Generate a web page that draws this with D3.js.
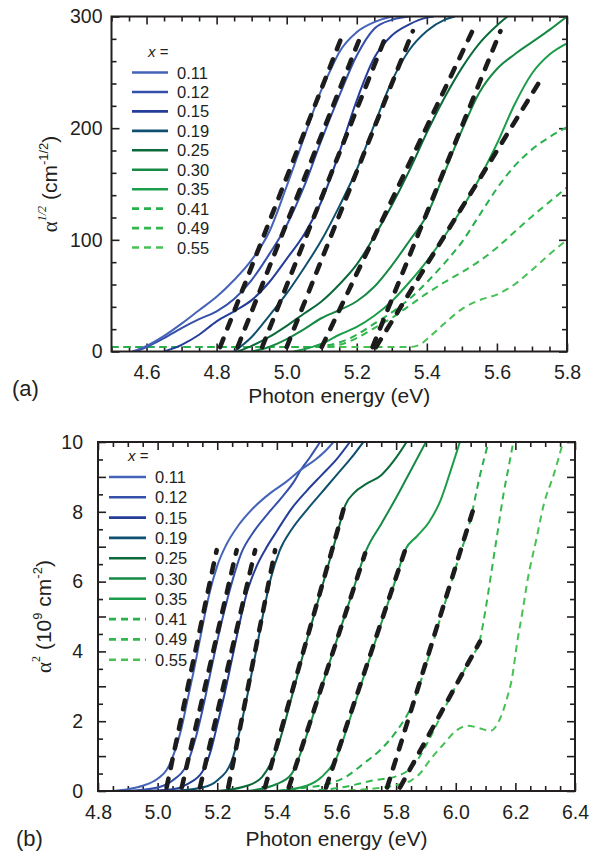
<!DOCTYPE html>
<html><head><meta charset="utf-8">
<script src="https://cdn.jsdelivr.net/npm/d3@7"></script>
<style>
body{margin:0;background:#fff;}
svg{display:block;}
text{font-family:"Liberation Sans",Arial,Helvetica,sans-serif;fill:#231f20;}
</style>
</head><body>
<svg id="chart" width="600" height="852"></svg>
<script>
// ---------------- DATA ----------------
const compositions = ["0.11","0.12","0.15","0.19","0.25","0.30","0.35","0.41","0.49","0.55"];
const seriesColors = ["#4563b8","#3450aa","#243e98","#0f5070","#0c6a3a","#168a45","#1c9d49","#27b04b","#32b84d","#48c154"];
const seriesDashed = [false,false,false,false,false,false,false,true,true,true];

const xTicksA = [4.6,4.8,5.0,5.2,5.4,5.6,5.8];
const yTicksA = [0,100,200,300];
const xTicksB = [4.8,5.0,5.2,5.4,5.6,5.8,6.0,6.2,6.4];
const yTicksB = [0,2,4,6,8,10];

// Panel (a): alpha^(1/2) (cm^-1/2) vs photon energy (eV)
const a011 = [[4.56,0],[4.6,5],[4.65,14],[4.7,25],[4.75,37],[4.8,49],[4.85,64],[4.9,82],[4.95,107],[5.0,148],[5.05,192],[5.1,235],[5.125,252],[5.15,268],[5.2,286],[5.25,295],[5.3,300]];
const a012 = [[4.57,0],[4.6,4],[4.65,12],[4.7,21],[4.75,29],[4.8,36],[4.85,47],[4.9,64],[4.95,87],[5.0,113],[5.05,148],[5.1,190],[5.15,229],[5.2,265],[5.25,289],[5.3,297],[5.35,300]];
const a015 = [[4.65,0],[4.7,6],[4.75,15],[4.8,27],[4.85,36],[4.9,46],[4.95,62],[5.0,83],[5.05,105],[5.1,135],[5.15,178],[5.2,225],[5.25,263],[5.3,283],[5.35,293],[5.4,299],[5.42,300]];
const a019 = [[4.85,0],[4.9,13],[4.95,32],[5.0,52],[5.05,75],[5.1,100],[5.15,130],[5.2,163],[5.25,203],[5.3,242],[5.35,270],[5.4,287],[5.45,297],[5.48,300]];
const a025 = [[4.86,0],[4.9,5],[4.95,13],[5.0,23],[5.05,34],[5.1,45],[5.15,60],[5.2,78],[5.25,103],[5.3,131],[5.35,162],[5.4,196],[5.45,227],[5.5,254],[5.55,276],[5.6,292],[5.63,300]];
const a030 = [[4.9,0],[4.95,4],[5.0,11],[5.05,20],[5.1,30],[5.15,37],[5.2,45],[5.25,58],[5.3,77],[5.35,99],[5.4,122],[5.45,160],[5.5,198],[5.55,232],[5.6,253],[5.65,266],[5.7,277],[5.75,288],[5.8,300]];
const a035 = [[5.02,0],[5.05,2],[5.1,7],[5.15,15],[5.2,22],[5.25,32],[5.3,45],[5.35,62],[5.4,81],[5.45,103],[5.5,128],[5.55,155],[5.6,186],[5.65,221],[5.7,249],[5.75,266],[5.8,276]];
const a041 = [[4.5,4],[5.05,4],[5.1,5],[5.15,8],[5.2,15],[5.25,25],[5.3,35],[5.35,47],[5.4,62],[5.45,79],[5.5,98],[5.55,122],[5.6,146],[5.65,166],[5.7,181],[5.75,192],[5.8,201]];
const a049 = [[4.5,4],[5.1,4],[5.15,6],[5.2,12],[5.25,21],[5.3,30],[5.35,41],[5.4,52],[5.45,62],[5.5,71],[5.55,81],[5.6,93],[5.65,107],[5.7,121],[5.75,134],[5.8,147]];
const a055 = [[4.5,4],[5.35,4],[5.38,6],[5.4,11],[5.45,25],[5.5,38],[5.55,46],[5.6,51],[5.65,60],[5.7,73],[5.75,87],[5.8,100]];
// linear fits (black dashed) for panel (a): [start, end]
const fitsA = [
  [[4.81,4],[5.16,284]],
  [[4.86,4],[5.213,284]],
  [[4.93,4],[5.285,284]],
  [[5.0,4],[5.36,287]],
  [[5.10,4],[5.53,287]],
  [[5.245,4],[5.61,287]],
  [[5.255,4],[5.73,246]]
];

// Panel (b): alpha^2 (10^9 cm^-2) vs photon energy (eV)
const b011 = [[4.85,0],[4.9,0.05],[4.95,0.15],[5.0,0.35],[5.03,0.6],[5.06,1.2],[5.08,1.8],[5.1,2.6],[5.125,3.6],[5.15,4.7],[5.175,5.7],[5.2,6.45],[5.23,7.05],[5.27,7.6],[5.32,8.1],[5.38,8.55],[5.43,8.85],[5.48,9.2],[5.53,9.5],[5.56,9.72],[5.59,10]];
const b012 = [[4.9,0],[5.0,0.1],[5.05,0.3],[5.1,0.8],[5.13,1.6],[5.15,2.3],[5.175,3.3],[5.2,4.3],[5.225,5.2],[5.25,6.0],[5.28,6.8],[5.32,7.4],[5.37,7.95],[5.42,8.45],[5.46,8.9],[5.48,9.2],[5.51,9.55],[5.545,10]];
const b015 = [[4.95,0],[5.05,0.05],[5.1,0.2],[5.15,0.55],[5.18,1.2],[5.2,1.9],[5.225,2.8],[5.25,3.8],[5.28,5.0],[5.3,5.7],[5.33,6.4],[5.36,6.9],[5.4,7.45],[5.45,8.1],[5.5,8.6],[5.55,9.05],[5.6,9.5],[5.645,10]];
const b019 = [[5.05,0],[5.15,0.1],[5.2,0.3],[5.25,0.9],[5.28,1.9],[5.3,2.7],[5.33,4.0],[5.35,4.9],[5.38,6.1],[5.41,6.9],[5.45,7.5],[5.5,8.05],[5.55,8.55],[5.6,9.05],[5.65,9.55],[5.69,10]];
const b025 = [[5.2,0],[5.3,0.15],[5.35,0.4],[5.4,1.2],[5.45,2.7],[5.5,4.3],[5.55,5.8],[5.6,7.3],[5.63,8.2],[5.66,8.55],[5.7,8.8],[5.75,9.05],[5.8,9.55],[5.835,10]];
const b030 = [[5.3,0],[5.4,0.2],[5.45,0.5],[5.5,1.6],[5.55,2.97],[5.6,4.3],[5.65,5.6],[5.7,6.9],[5.75,7.65],[5.8,8.4],[5.85,9.2],[5.9,10]];
const b035 = [[5.4,0],[5.5,0.15],[5.55,0.4],[5.6,0.95],[5.65,2.2],[5.7,3.5],[5.75,4.8],[5.8,6.1],[5.83,6.9],[5.87,7.3],[5.91,7.7],[5.95,8.35],[5.98,9.1],[6.014,10]];
const b041 = [[5.4,0],[5.5,0.1],[5.58,0.22],[5.63,0.4],[5.69,0.78],[5.75,1.2],[5.8,1.7],[5.85,2.4],[5.9,3.6],[5.95,5.0],[6.0,6.4],[6.05,7.8],[6.08,9.0],[6.11,10]];
const b049 = [[5.5,0],[5.63,0.12],[5.72,0.3],[5.8,0.42],[5.86,0.75],[5.9,1.3],[5.95,2.15],[6.0,3.0],[6.05,3.8],[6.08,4.3],[6.1,5.2],[6.12,6.3],[6.14,7.4],[6.16,8.5],[6.18,9.4],[6.193,10]];
const b055 = [[5.6,0],[5.7,0.05],[5.8,0.17],[5.85,0.3],[5.88,0.5],[5.91,0.85],[5.96,1.35],[6.0,1.72],[6.04,1.87],[6.08,1.8],[6.115,1.72],[6.15,2.1],[6.17,2.6],[6.19,3.3],[6.205,4.2],[6.225,5.2],[6.24,6.0],[6.27,7.2],[6.295,8.2],[6.33,9.1],[6.36,10]];
const fitsB = [
  [[5.03,0.1],[5.198,6.9]],
  [[5.081,0.1],[5.265,6.9]],
  [[5.142,0.1],[5.327,6.9]],
  [[5.237,0.1],[5.394,6.9]],
  [[5.36,0.1],[5.629,8.24]],
  [[5.44,0.1],[5.696,6.81]],
  [[5.565,0.1],[5.83,6.9]],
  [[5.77,0.1],[6.065,8.24]],
  [[5.813,0.1],[6.081,4.28]]
];

const curvesA = [a011,a012,a015,a019,a025,a030,a035,a041,a049,a055];
const curvesB = [b011,b012,b015,b019,b025,b030,b035,b041,b049,b055];

// ---------------- DRAW ----------------
const svg = d3.select("#chart");
const FONT = '"Liberation Sans",Arial,Helvetica,sans-serif';
const SERIF = '"Liberation Serif","Times New Roman",serif';

function drawPanel(cfg) {
  const x = d3.scaleLinear().domain(cfg.xDomain).range([cfg.left, cfg.right]);
  const y = d3.scaleLinear().domain(cfg.yDomain).range([cfg.bottom, cfg.top]);
  const g = svg.append("g");
  const clipId = "clip" + cfg.id;
  svg.append("clipPath").attr("id", clipId).append("rect")
    .attr("x", cfg.left).attr("y", cfg.top)
    .attr("width", cfg.right - cfg.left).attr("height", cfg.bottom - cfg.top);

  const eps = 1e-6;
  const xMinor = d3.range(cfg.xDomain[0], cfg.xDomain[1] + eps, cfg.xMinorStep)
    .filter(v => !cfg.xMajor.some(m => Math.abs(m - v) < eps));
  const yMinor = d3.range(cfg.yDomain[0], cfg.yDomain[1] + eps, cfg.yMinorStep)
    .filter(v => !cfg.yMajor.some(m => Math.abs(m - v) < eps));

  const tickStyle = sel => {
    sel.select(".domain").remove();
    sel.selectAll("line").attr("stroke", "#231f20").attr("stroke-width", 1.6);
    sel.selectAll("text").attr("font-family", FONT).attr("font-size", cfg.tickFont).attr("fill", "#231f20");
  };
  const MAJ = 8, MIN = 5;
  const isIn = (arr, v) => arr.some(m => Math.abs(m - v) < eps);
  const xFmt = d => isIn(cfg.xLabels, d) ? d3.format(".1f")(d) : "";
  const yFmt = d => isIn(cfg.yLabels, d) ? d3.format("d")(d) : "";

  // bottom
  g.append("g").attr("transform", `translate(0,${cfg.bottom})`)
    .call(d3.axisBottom(x).tickValues(xMinor).tickSize(-MIN).tickFormat("")).call(tickStyle);
  g.append("g").attr("transform", `translate(0,${cfg.bottom})`)
    .call(d3.axisBottom(x).tickValues(cfg.xMajor).tickSize(-MAJ).tickPadding(cfg.xPad).tickFormat(xFmt)).call(tickStyle);
  // top
  g.append("g").attr("transform", `translate(0,${cfg.top})`)
    .call(d3.axisTop(x).tickValues(xMinor).tickSize(-MIN).tickFormat("")).call(tickStyle);
  g.append("g").attr("transform", `translate(0,${cfg.top})`)
    .call(d3.axisTop(x).tickValues(cfg.xMajor).tickSize(-MAJ).tickFormat("")).call(tickStyle);
  // left
  g.append("g").attr("transform", `translate(${cfg.left},0)`)
    .call(d3.axisLeft(y).tickValues(yMinor).tickSize(-MIN).tickFormat("")).call(tickStyle);
  g.append("g").attr("transform", `translate(${cfg.left},0)`)
    .call(d3.axisLeft(y).tickValues(cfg.yMajor).tickSize(-MAJ).tickPadding(cfg.yPad).tickFormat(yFmt)).call(tickStyle);
  // right
  g.append("g").attr("transform", `translate(${cfg.right},0)`)
    .call(d3.axisRight(y).tickValues(yMinor).tickSize(-MIN).tickFormat("")).call(tickStyle);
  g.append("g").attr("transform", `translate(${cfg.right},0)`)
    .call(d3.axisRight(y).tickValues(cfg.yMajor).tickSize(-MAJ).tickFormat("")).call(tickStyle);

  // curves
  const line = d3.line().x(d => x(d[0])).y(d => y(d[1])).curve(d3.curveMonotoneX);
  const cg = g.append("g").attr("clip-path", `url(#${clipId})`);
  const order = d3.range(cfg.curves.length).reverse();
  order.forEach(i => {
    cg.append("path").datum(cfg.curves[i])
      .attr("d", line).attr("fill", "none")
      .attr("stroke", seriesColors[i]).attr("stroke-width", 2)
      .attr("stroke-dasharray", seriesDashed[i] ? "7,5" : null);
  });
  // linear fits
  const fitLine = d3.line().x(d => x(d[0])).y(d => y(d[1]));
  cfg.fits.forEach(f => {
    cg.append("path").datum(f).attr("d", fitLine).attr("fill", "none")
      .attr("stroke", "#1c1c1c").attr("stroke-width", 4.6)
      .attr("stroke-linecap", "round").attr("stroke-dasharray", "9,11");
  });

  // frame
  g.append("rect").attr("x", cfg.left).attr("y", cfg.top)
    .attr("width", cfg.right - cfg.left).attr("height", cfg.bottom - cfg.top)
    .attr("fill", "none").attr("stroke", "#231f20").attr("stroke-width", 2);

  // legend
  const lg = g.append("g");
  lg.append("text").attr("x", cfg.legX + cfg.legHeadDx).attr("y", cfg.legY - cfg.legStep + 4)
    .attr("font-family", SERIF).attr("font-size", 15)
    .html('<tspan font-style="italic">x</tspan> =');
  compositions.forEach((c, i) => {
    const yy = cfg.legY + i * cfg.legStep;
    lg.append("line").attr("x1", cfg.legX).attr("x2", cfg.legX + cfg.legLen)
      .attr("y1", yy).attr("y2", yy)
      .attr("stroke", seriesColors[i]).attr("stroke-width", 2.6)
      .attr("stroke-dasharray", seriesDashed[i] ? "7,5" : null);
    lg.append("text").attr("x", cfg.legX + cfg.legLen + 9).attr("y", yy + 6)
      .attr("font-family", FONT).attr("font-size", 16.5).text(c);
  });

  g.append("text").attr("x", (cfg.left + cfg.right) / 2).attr("y", cfg.xTitleY)
    .attr("text-anchor", "middle").attr("font-family", FONT).attr("font-size", 21)
    .text("Photon energy (eV)");
  g.append("text").attr("x", cfg.panelX).attr("y", cfg.panelY)
    .attr("font-family", FONT).attr("font-size", 22).text(cfg.panelLabel);
  const yt = g.append("text")
    .attr("transform", `translate(${cfg.yTitleX},${(cfg.top + cfg.bottom) / 2}) rotate(-90)`)
    .attr("text-anchor", "middle").attr("font-family", FONT).attr("font-size", 21);
  cfg.yTitle(yt);
  return {x, y};
}

drawPanel({
  id: "A", xDomain: [4.5, 5.8], yDomain: [0, 300],
  left: 111.5, right: 567, top: 16.5, bottom: 351.5,
  xMajor: xTicksA, yMajor: [0,100,200,300], xLabels: xTicksA, yLabels: yTicksA,
  xMinorStep: 0.05, yMinorStep: 20,
  tickFont: 19.5, xPad: 14, yPad: 9,
  curves: curvesA, fits: fitsA,
  legX: 132, legY: 72.5, legStep: 19.45, legLen: 36, legHeadDx: 16,
  xTitleY: 403, panelX: 12, panelY: 396, panelLabel: "(a)", yTitleX: 57,
  yTitle: t => {
    t.append("tspan").attr("font-family", SERIF).attr("font-size", 21).text("α");
    t.append("tspan").attr("font-family", SERIF).attr("font-style", "italic").attr("font-size", 12).attr("dy", -11).text("1/2");
    t.append("tspan").attr("dy", 11).text(" (cm");
    t.append("tspan").attr("font-size", 13).attr("dy", -9).text("-1/2");
    t.append("tspan").attr("dy", 9).text(")");
  }
});

drawPanel({
  id: "B", xDomain: [4.8, 6.4], yDomain: [0, 10],
  left: 98, right: 575, top: 442, bottom: 791,
  xMajor: xTicksB, yMajor: d3.range(0, 10.001, 1), xLabels: xTicksB, yLabels: yTicksB,
  xMinorStep: 0.05, yMinorStep: 0.5,
  tickFont: 19.5, xPad: 14, yPad: 15,
  curves: curvesB, fits: fitsB,
  legX: 109, legY: 477, legStep: 20.3, legLen: 37, legHeadDx: 19,
  xTitleY: 846, panelX: 16, panelY: 846, panelLabel: "(b)", yTitleX: 51,
  yTitle: t => {
    t.append("tspan").attr("font-family", SERIF).attr("font-size", 21).text("α");
    t.append("tspan").attr("font-family", SERIF).attr("font-size", 12).attr("dy", -11).text("2");
    t.append("tspan").attr("dy", 11).text(" (10");
    t.append("tspan").attr("font-size", 13).attr("dy", -9).text("9");
    t.append("tspan").attr("dy", 9).text(" cm");
    t.append("tspan").attr("font-size", 13).attr("dy", -9).text("-2");
    t.append("tspan").attr("dy", 9).text(")");
  }
});
</script>
</body></html>
